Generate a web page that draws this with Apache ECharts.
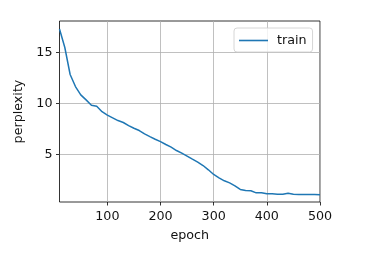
<!DOCTYPE html>
<html>
<head>
<meta charset="utf-8">
<script src="https://cdn.jsdelivr.net/npm/echarts@6/dist/echarts.min.js"></script>
<style>html,body{margin:0;padding:0;background:#fff;}#c{width:375px;height:259px;}</style>
</head>
<body>
<div id="c"></div>
<script>
const epochs = [10,20,30,40,50,60,70,80,90,100,110,120,130,140,150,160,170,180,190,200,210,220,230,240,250,260,270,280,290,300,310,320,330,340,350,360,370,380,390,400,410,420,430,440,450,460,470,480,490,500];
const trainPerplexity = [17.32,15.5,12.85,11.67,10.85,10.36,9.84,9.74,9.2,8.86,8.6,8.33,8.14,7.84,7.58,7.35,7.03,6.76,6.5,6.27,5.98,5.72,5.39,5.13,4.84,4.54,4.25,3.92,3.5,3.04,2.71,2.42,2.22,1.93,1.57,1.47,1.44,1.24,1.24,1.14,1.14,1.11,1.11,1.2,1.11,1.08,1.08,1.08,1.08,1.05];
const xTicks = [100,200,300,400,500];
const yTicks = [5,10,15];
const seriesName = 'train';

const font = 'DejaVu Sans';
const fs = 12.7;
const txt = '#111';
const chart = echarts.init(document.getElementById('c'), null, {renderer:'canvas'});
chart.setOption({
  animation: false,
  backgroundColor: '#fff',
  grid: {left: 59.5, top: 21, width: 260.5, height: 181, show: true, borderColor: '#000', borderWidth: 0.8, backgroundColor: 'transparent'},
  legend: {
    data: [seriesName], left: 234, top: 28, orient: 'vertical',
    padding: [5, 6, 4, 5], itemWidth: 29, itemHeight: 1.6, icon: 'rect',
    itemStyle: {color: '#1f77b4'},
    borderColor: '#cccccc', borderWidth: 0.8, borderRadius: 3, backgroundColor: 'rgba(255,255,255,0.8)',
    textStyle: {fontFamily: font, fontSize: fs, color: txt, padding: [0,0,0,4], lineHeight: 15}
  },
  xAxis: {
    type: 'value', min: 10, max: 500,
    name: 'epoch', nameLocation: 'middle', nameGap: 27,
    nameTextStyle: {fontFamily: font, fontSize: fs, color: txt},
    axisLine: {show: false},
    axisTick: {show: true, length: 3.5, inside: false, customValues: xTicks, lineStyle: {color: '#000', width: 0.8}},
    axisLabel: {customValues: xTicks, margin: 8, fontFamily: font, fontSize: fs, color: txt},
    splitLine: {show: true, lineStyle: {color: '#b0b0b0', width: 0.8}}
  },
  yAxis: {
    type: 'value', min: 0.34, max: 18.1,
    name: 'perplexity', nameLocation: 'middle', nameGap: 22,
    nameTextStyle: {fontFamily: font, fontSize: fs, color: txt},
    axisLine: {show: false},
    axisTick: {show: true, length: 3.5, inside: false, customValues: yTicks, lineStyle: {color: '#000', width: 0.8}},
    axisLabel: {customValues: yTicks, margin: 7, fontFamily: font, fontSize: fs, color: txt},
    splitLine: {show: true, lineStyle: {color: '#b0b0b0', width: 0.8}}
  },
  series: [{
    name: seriesName, type: 'line', symbol: 'none', showSymbol: false,
    data: epochs.map((e, i) => [e, trainPerplexity[i]]),
    lineStyle: {color: '#1f77b4', width: 1.5}, itemStyle: {color: '#1f77b4'}
  }]
});
</script>
</body>
</html>
